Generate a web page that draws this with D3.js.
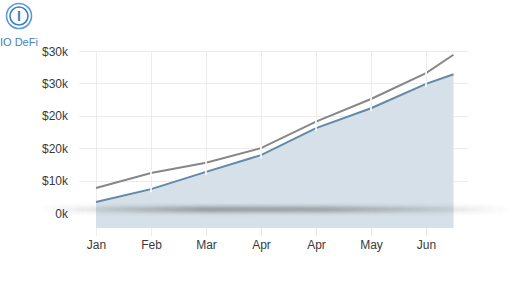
<!DOCTYPE html>
<html>
<head>
<meta charset="utf-8">
<script src="https://cdn.jsdelivr.net/npm/d3@7"></script>
<style>
  body { margin: 0; background: #fff; }
  svg { display: block; font-family: "Liberation Sans", Arial, sans-serif; }
  .tick-label { font-size: 12px; fill: #3a3a3a; }
</style>
</head>
<body>
<div id="chart"></div>
<script>
// x positions are month indexes, the last point sits half a step after Jun
const months = ["Jan", "Feb", "Mar", "Apr", "Apr", "May", "Jun"]
const pointIndex = [0, 1, 2, 3, 4, 5, 6, 6.5]
const upperValues = [4600, 7400, 9300, 12000, 16900, 21100, 25900, 29300]
const lowerValues = [2000, 4400, 7600, 10700, 15700, 19400, 23900, 25700]
const yTickValues = [0, 6000, 12000, 18000, 24000, 30000]
const yTickLabels = ["0k", "$10k", "$20k", "$20k", "$30k", "$30k"]

// 1. Access data
const dataset = pointIndex.map((x, i) => ({
  x,
  upper: upperValues[i],
  lower: lowerValues[i],
}))
const xAccessor = d => d.x

// 2. Create chart dimensions
let dimensions = {
  width: 512,
  height: 288,
  margin: {
    top: 51,
    right: 44,
    bottom: 60,
    left: 96,
  },
}
dimensions.boundedWidth = dimensions.width
  - dimensions.margin.left
  - dimensions.margin.right
dimensions.boundedHeight = dimensions.height
  - dimensions.margin.top
  - dimensions.margin.bottom

// 3. Draw canvas
const wrapper = d3.select("#chart")
  .append("svg")
    .attr("width", dimensions.width)
    .attr("height", dimensions.height)

const defs = wrapper.append("defs")
defs.append("filter")
    .attr("id", "blur")
    .attr("x", "-10%").attr("y", "-200%")
    .attr("width", "120%").attr("height", "500%")
  .append("feGaussianBlur")
    .attr("stdDeviation", 2.2)
const shadowGradient = defs.append("linearGradient")
    .attr("id", "shadow-gradient")
shadowGradient.selectAll("stop")
  .data([[0, 0], [0.12, 0.18], [0.35, 0.55], [0.6, 0.5], [0.85, 0.2], [1, 0]])
  .join("stop")
    .attr("offset", d => d[0])
    .attr("stop-color", "#4a4a4a")
    .attr("stop-opacity", d => d[1])

const bounds = wrapper.append("g")
    .attr("transform", `translate(${
      dimensions.margin.left
    }, ${
      dimensions.margin.top
    })`)

// 4. Create scales
const xScale = d3.scaleLinear()
  .domain([0, 6])
  .range([0, 330])

const yScale = d3.scaleLinear()
  .domain([-2800, 30000])
  .range([dimensions.boundedHeight, 0])

// 5. Draw peripherals (grid first, under the data)
const grid = bounds.append("g")
    .attr("stroke", "#ececec")
    .attr("stroke-width", 1)

grid.selectAll(".h-grid")
  .data(yTickValues.slice(1))
  .join("line")
    .attr("x1", -17)
    .attr("x2", 372)
    .attr("y1", d => Math.round(yScale(d)) + 0.5)
    .attr("y2", d => Math.round(yScale(d)) + 0.5)

grid.selectAll(".v-grid")
  .data(d3.range(months.length))
  .join("line")
    .attr("x1", d => Math.round(xScale(d)) + 0.5)
    .attr("x2", d => Math.round(xScale(d)) + 0.5)
    .attr("y1", yScale(30000))
    .attr("y2", dimensions.boundedHeight + 8)

// 6. Draw data
const areaGenerator = d3.area()
  .x(d => xScale(xAccessor(d)))
  .y0(dimensions.boundedHeight)
  .y1(d => yScale(d.lower))

bounds.append("path")
    .attr("d", areaGenerator(dataset))
    .attr("fill", "#d5e0e8")

// blurred band around the zero line
bounds.append("rect")
    .attr("x", -56)
    .attr("y", yScale(0) - 6)
    .attr("width", 470)
    .attr("height", 5)
    .attr("fill", "url(#shadow-gradient)")
    .attr("filter", "url(#blur)")

const lineGenerator = key => d3.line()
  .x(d => xScale(xAccessor(d)))
  .y(d => yScale(d[key]))

bounds.append("path")
    .attr("d", lineGenerator("upper")(dataset))
    .attr("fill", "none")
    .attr("stroke", "#878787")
    .attr("stroke-width", 2)

bounds.append("path")
    .attr("d", lineGenerator("lower")(dataset))
    .attr("fill", "none")
    .attr("stroke", "#6389a6")
    .attr("stroke-width", 2)

// little white breaks at each month point
const breaks = bounds.append("g")
    .attr("stroke", "#fff")
    .attr("stroke-width", 1.6)
;["upper", "lower"].forEach(key => {
  breaks.selectAll(`.break-${key}`)
    .data(dataset.slice(1, 7))
    .join("line")
      .attr("x1", d => xScale(xAccessor(d)))
      .attr("x2", d => xScale(xAccessor(d)))
      .attr("y1", d => yScale(d[key]) - 3)
      .attr("y2", d => yScale(d[key]) + 3)
})

// axes labels
const yAxisGenerator = d3.axisLeft(yScale)
  .tickValues(yTickValues)
  .tickFormat((d, i) => yTickLabels[i])
  .tickSize(0)
  .tickPadding(28)

const yAxis = bounds.append("g")
  .call(yAxisGenerator)
yAxis.select(".domain").remove()
yAxis.selectAll("text")
    .attr("class", "tick-label")
    .attr("dy", "0.35em")

const xAxisGenerator = d3.axisBottom(xScale)
  .tickValues(d3.range(months.length))
  .tickFormat(i => months[i])
  .tickSize(0)
  .tickPadding(12)

const xAxis = bounds.append("g")
    .attr("transform", `translate(0, ${dimensions.boundedHeight})`)
  .call(xAxisGenerator)
xAxis.select(".domain").remove()
xAxis.selectAll("text")
    .attr("class", "tick-label")

// 7. Logo
const logo = wrapper.append("g")
    .attr("transform", "translate(19, 16)")
logo.append("circle")
    .attr("r", 12.5)
    .attr("fill", "#fff")
    .attr("stroke", "#5b9bd5")
    .attr("stroke-width", 1.6)
logo.append("circle")
    .attr("r", 9)
    .attr("fill", "none")
    .attr("stroke", "#3f7fc0")
    .attr("stroke-width", 1.6)
logo.append("text")
    .attr("text-anchor", "middle")
    .attr("dy", "0.36em")
    .attr("font-size", 14)
    .attr("font-weight", "bold")
    .attr("fill", "#3f7fc0")
    .text("I")

wrapper.append("text")
    .attr("x", 0)
    .attr("y", 46)
    .attr("font-size", 11)
    .attr("fill", "#3f7fc0")
    .text("IO DeFi")
</script>
</body>
</html>
